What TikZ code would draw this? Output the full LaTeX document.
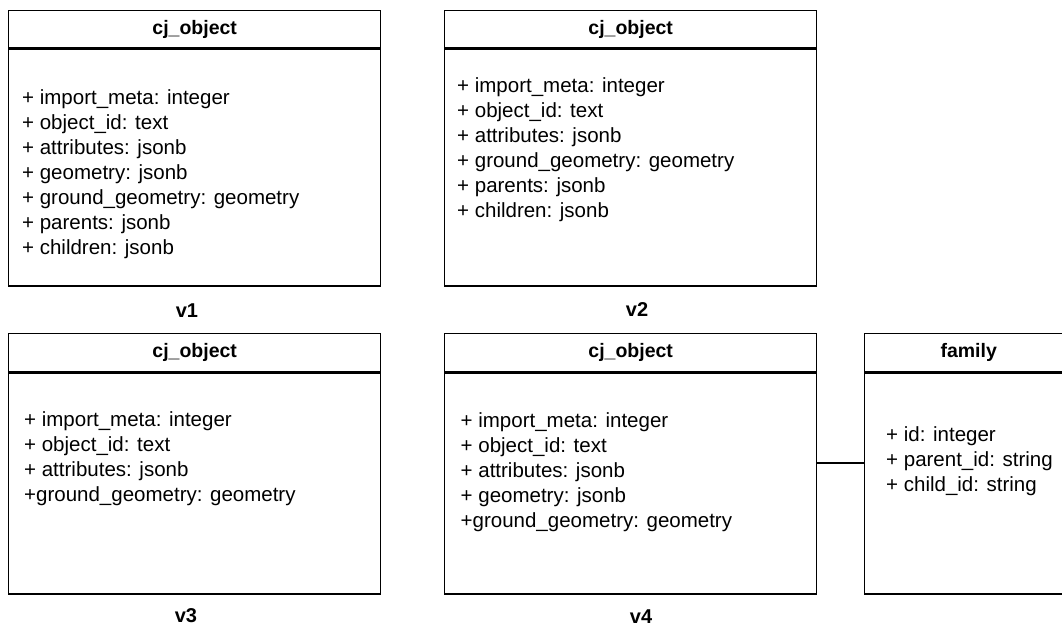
\documentclass[tikz,border=0pt]{standalone}
\usepackage{fontspec}
\setmainfont{Liberation Sans}
\begin{document}
\begin{tikzpicture}[x=1pt,y=-1pt,
  hdr/.style={draw, line width=1.4pt, minimum height=37pt, inner sep=0pt, anchor=north west,
    font=\bfseries\fontsize{19.5}{23}\selectfont},
  bodybox/.style={draw, line width=1.4pt, inner sep=0pt, anchor=north west},
  attrs/.style={anchor=north west, inner sep=0pt, align=left, font=\fontsize{20.5}{25}\selectfont},
  lbl/.style={inner sep=0pt, font=\bfseries\fontsize{20}{24}\selectfont},
  conn/.style={draw, line width=1.4pt}]
\useasboundingbox (0,0) rectangle (1062,626);
\clip (0,0) rectangle (1062,626);

% v1
\node[hdr, minimum width=372pt] (h1) at (8,10) {cj\_object};
\node[bodybox, minimum width=372pt, minimum height=237pt] (b1) at (h1.south west) {};
\node[attrs] (t1) at (22,89) {+ import\_meta: integer\\+ object\_id: text\\+ attributes: jsonb\\+ geometry: jsonb\\+ ground\_geometry: geometry\\+ parents: jsonb\\+ children: jsonb};
\node[lbl] (l1) at (187,311) {v1};

% v2
\node[hdr, minimum width=372pt] (h2) at (444,10) {cj\_object};
\node[bodybox, minimum width=372pt, minimum height=237pt] (b2) at (h2.south west) {};
\node[attrs] (t2) at (457,77.5) {+ import\_meta: integer\\+ object\_id: text\\+ attributes: jsonb\\+ ground\_geometry: geometry\\+ parents: jsonb\\+ children: jsonb};
\node[lbl] (l2) at (637,310) {v2};

% v3
\node[hdr, minimum width=372pt, minimum height=38pt] (h3) at (8,333) {cj\_object};
\node[bodybox, minimum width=372pt, minimum height=221pt] (b3) at (h3.south west) {};
\node[attrs] (t3) at (24,411.5) {+ import\_meta: integer\\+ object\_id: text\\+ attributes: jsonb\\+ground\_geometry: geometry};
\node[lbl] (l3) at (186,616) {v3};

% v4
\node[hdr, minimum width=372pt, minimum height=38pt] (h4) at (444,333) {cj\_object};
\node[bodybox, minimum width=372pt, minimum height=221pt] (b4) at (h4.south west) {};
\node[attrs] (t4) at (460.5,412.5) {+ import\_meta: integer\\+ object\_id: text\\+ attributes: jsonb\\+ geometry: jsonb\\+ground\_geometry: geometry};
\node[lbl] (l4) at (641,617) {v4};

% family
\node[hdr, minimum width=208pt, minimum height=38pt] (hf) at (864,333) {family};
\node[bodybox, minimum width=208pt, minimum height=221pt] (bf) at (hf.south west) {};
\node[attrs] (tf) at (886,426) {+ id: integer\\+ parent\_id: string\\+ child\_id: string};

\coordinate (mid) at (0,463);
\draw[conn] (b4.east |- mid) -- (bf.west |- mid);
\end{tikzpicture}
\end{document}
